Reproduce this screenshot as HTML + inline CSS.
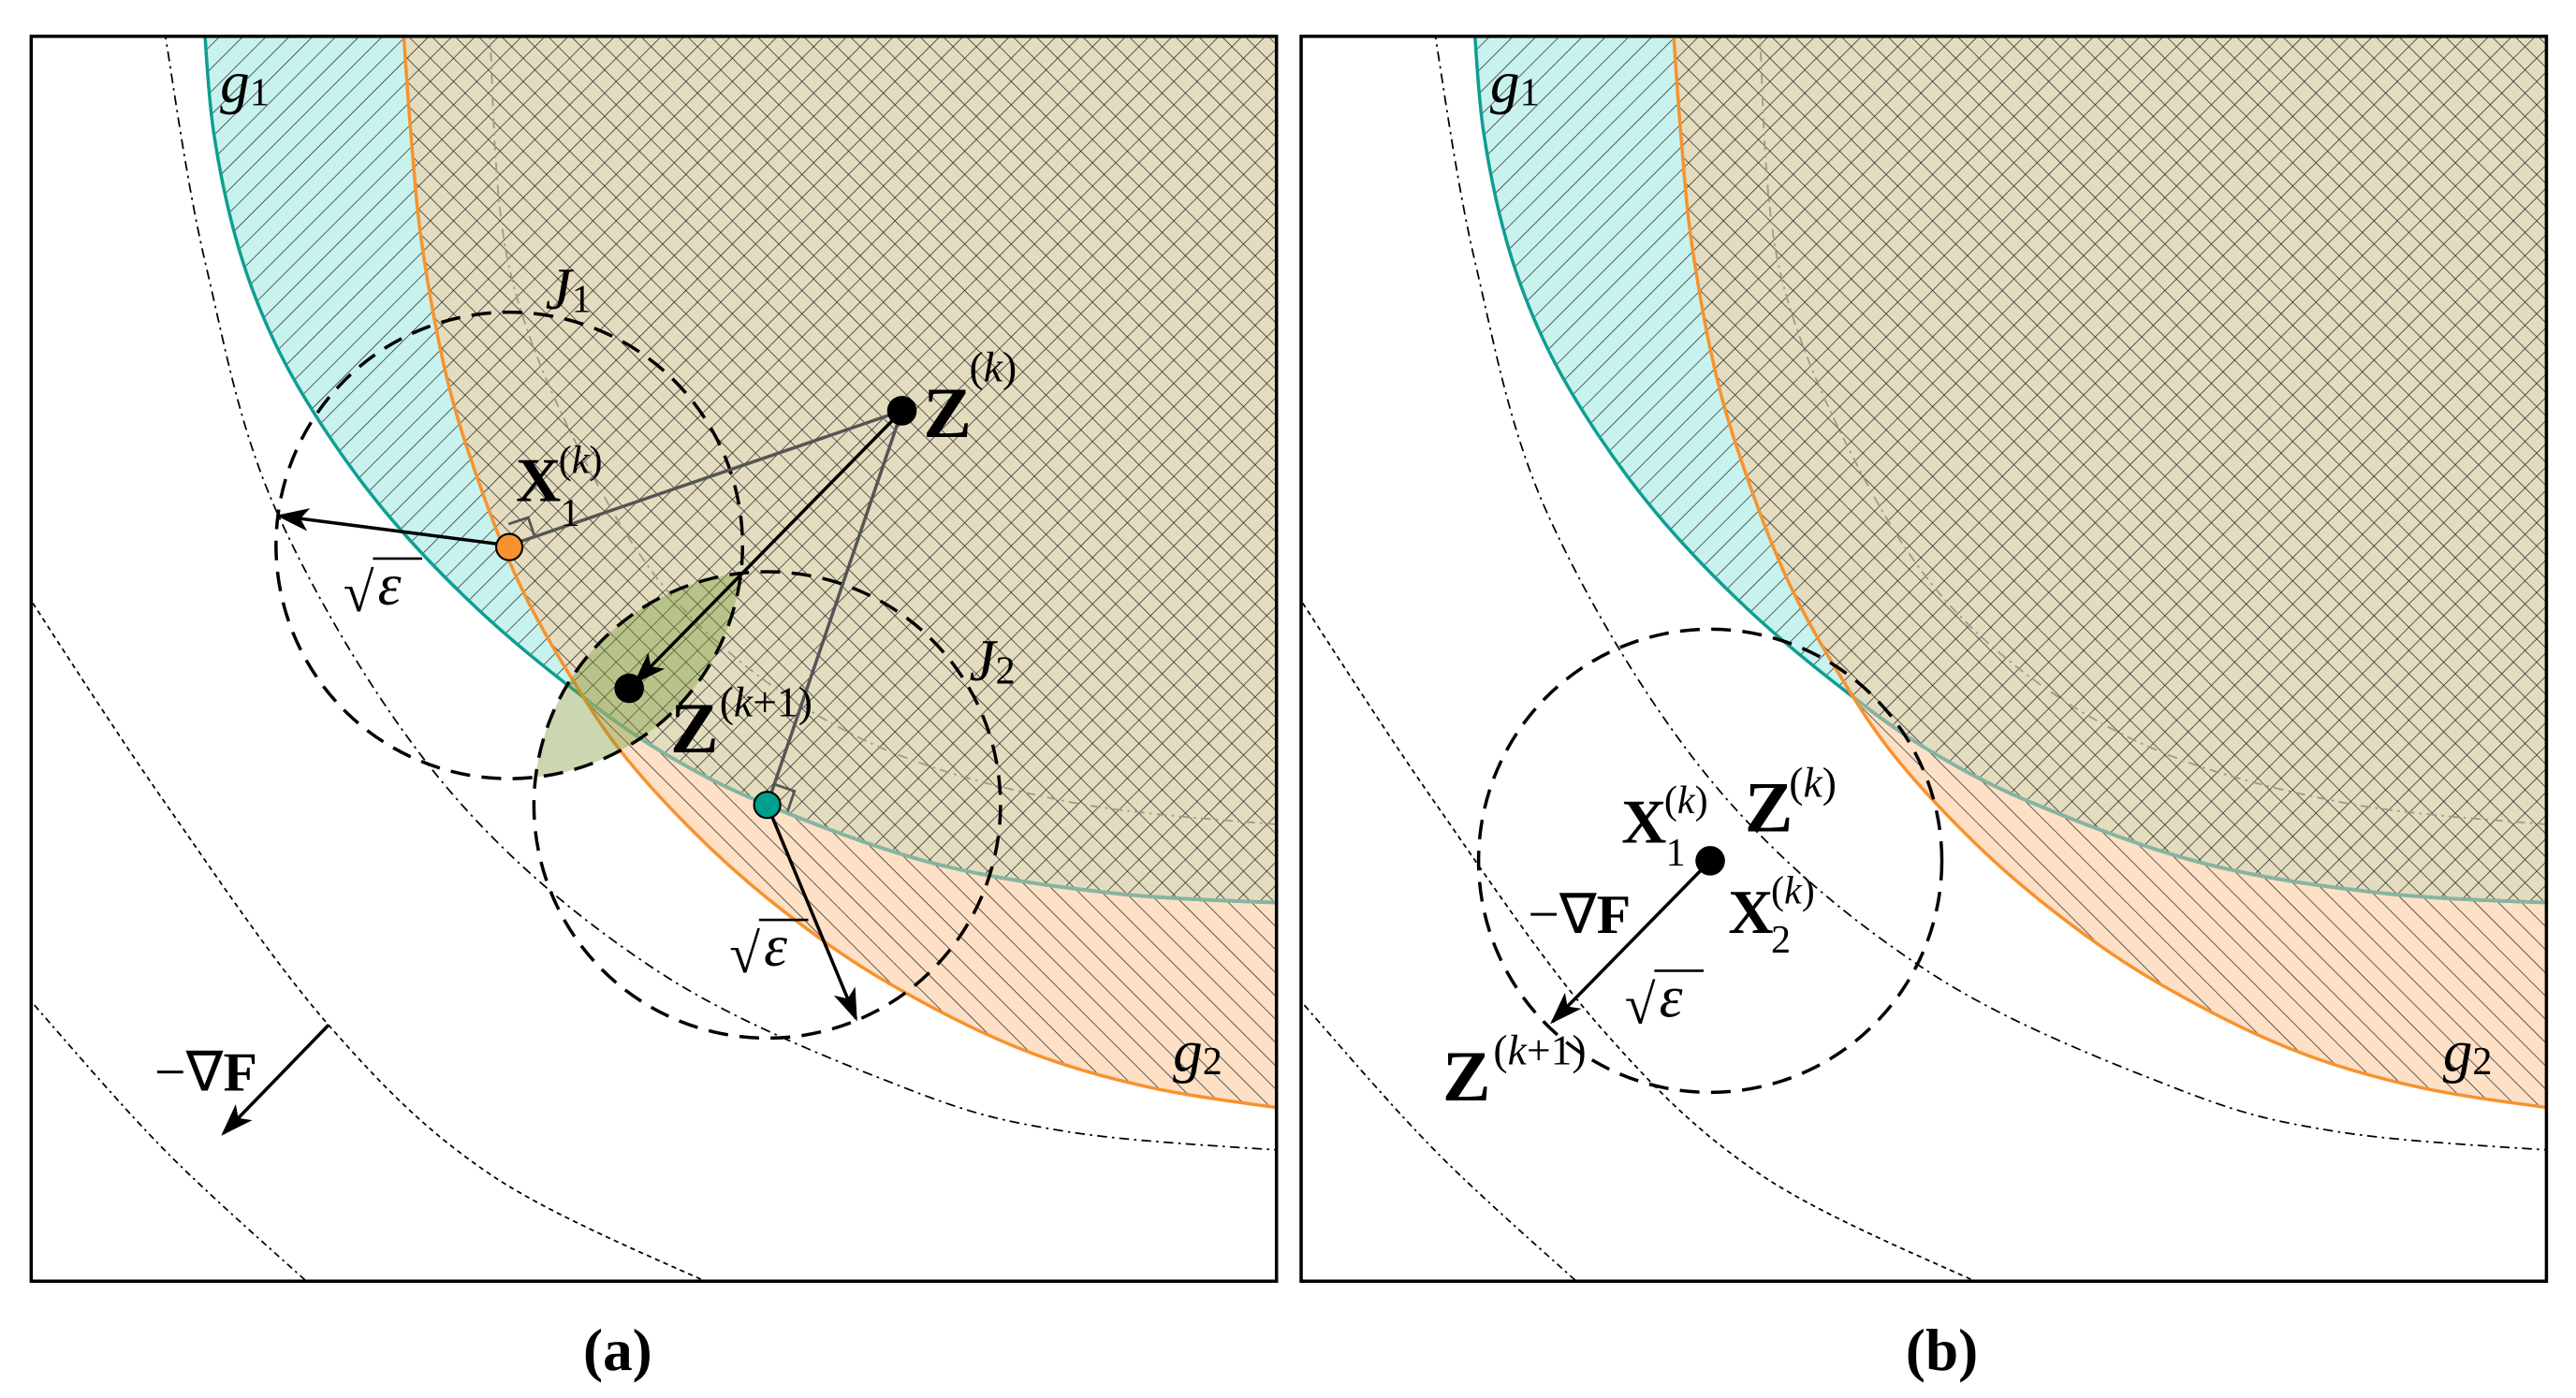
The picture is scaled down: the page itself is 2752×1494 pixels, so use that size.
<!DOCTYPE html>
<html><head><meta charset="utf-8"><style>
html,body{margin:0;padding:0;background:#fff}
svg{display:block}
text{font-family:"Liberation Serif",serif}
.b{font-weight:bold}
.i{font-style:italic}
</style></head><body>
<svg id="s" width="2752" height="1494" viewBox="0 0 1568 851" xmlns="http://www.w3.org/2000/svg">
<defs>
<pattern id="hs" width="10" height="10" patternUnits="userSpaceOnUse" patternTransform="rotate(45)">
<line x1="0" y1="0" x2="0" y2="10" stroke="#222" stroke-width="0.8"/></pattern>
<pattern id="hb" width="10" height="10" patternUnits="userSpaceOnUse" patternTransform="rotate(-45)">
<line x1="0" y1="0" x2="0" y2="10" stroke="#222" stroke-width="0.8"/></pattern>
<clipPath id="frame"><rect x="19" y="22" width="758" height="758"/></clipPath>
<clipPath id="cT"><path class="tealReg"/></clipPath>
<clipPath id="cO"><path class="orReg"/></clipPath>
<clipPath id="cJ1"><circle cx="310" cy="332" r="142"/></clipPath>
<g id="bg">
 <g clip-path="url(#frame)">
  <path class="tealReg" fill="#c8f2ee"/>
  <path class="orReg" fill="#fde0c5"/>
  <g clip-path="url(#cT)"><path class="orReg" fill="#e3dcbf"/></g>
  <path class="tealReg" fill="url(#hs)"/>
  <path class="orReg" fill="url(#hb)"/>
  <path class="tealC" fill="none" stroke="#0f9e92" stroke-width="2"/>
  <g clip-path="url(#cO)"><path class="tealC" fill="none" stroke="#86b4a0" stroke-width="2.2"/></g>
  <path class="orC" fill="none" stroke="#f7922e" stroke-width="2"/>
  <path class="dd1" fill="none" stroke="#000" stroke-width="1" stroke-dasharray="6,3,1.5,3"/>
  <path class="dd2" fill="none" stroke="#000" stroke-width="1" stroke-dasharray="3,2.5"/>
  <path class="dd3" fill="none" stroke="#000" stroke-width="1" stroke-dasharray="4,2.5,1.5,2.5"/>
  <path class="gin" fill="none" stroke="#9a9a8a" stroke-width="1" stroke-dasharray="6,3,1.5,3"/>
 </g>
 <rect x="19" y="22" width="758" height="758" fill="none" stroke="#000" stroke-width="2"/>
 <text x="134" y="62" font-size="36" class="i">g<tspan font-size="24" dy="2" font-style="normal">1</tspan></text>
 <text x="714" y="652" font-size="36" class="i">g<tspan font-size="24" dy="2" font-style="normal">2</tspan></text>
</g>
<marker id="ar2" markerWidth="20" markerHeight="14" refX="18" refY="7" orient="auto" markerUnits="userSpaceOnUse" viewBox="0 0 20 14"><path d="M0,0 L20,7 L0,14 L5,7z" fill="#000"/></marker>
</defs>

<!-- Panel a -->
<use href="#bg"/>
<g clip-path="url(#cJ1)"><circle cx="467" cy="490" r="142" fill="#7a9a3a" fill-opacity="0.4"/></g>
<circle cx="310" cy="332" r="142" fill="none" stroke="#000" stroke-width="2" stroke-dasharray="12,7"/>
<circle cx="467" cy="490" r="142" fill="none" stroke="#000" stroke-width="2" stroke-dasharray="12,7"/>
<line x1="549" y1="250" x2="310" y2="332" stroke="#555" stroke-width="2"/>
<line x1="549" y1="250" x2="467" y2="490" stroke="#555" stroke-width="2"/>
<path d="M309.5,319 L321.5,315 L325.6,327" fill="none" stroke="#555" stroke-width="1.6"/>
<path d="M471.3,477.4 L483.6,481.6 L479.4,494" fill="none" stroke="#555" stroke-width="1.6"/>
<line x1="310" y1="332" x2="170" y2="314" stroke="#000" stroke-width="2" marker-end="url(#ar2)"/>
<line x1="467" y1="490" x2="521" y2="620" stroke="#000" stroke-width="2" marker-end="url(#ar2)"/>
<line x1="549" y1="250" x2="387" y2="415" stroke="#000" stroke-width="2" marker-end="url(#ar2)"/>
<circle cx="549" cy="250" r="9" fill="#000"/>
<circle cx="383" cy="419" r="9" fill="#000"/>
<circle cx="310" cy="333" r="8" fill="#f7922e" stroke="#000" stroke-width="1.2"/>
<circle cx="467" cy="490" r="8" fill="#009e8e" stroke="#000" stroke-width="1.2"/>
<line x1="200" y1="624" x2="136" y2="690" stroke="#000" stroke-width="2" marker-end="url(#ar2)"/>

<text x="332" y="188" font-size="36" class="i">J<tspan font-size="24" dy="2" font-style="normal">1</tspan></text>
<text x="590" y="414" font-size="36" class="i">J<tspan font-size="24" dy="2" font-style="normal">2</tspan></text>
<text x="562" y="266" font-size="44" class="b">Z</text>
<text x="590" y="232" font-size="26">(<tspan class="i">k</tspan>)</text>
<text x="314" y="305" font-size="38" class="b">X</text>
<text x="340" y="288" font-size="24">(<tspan class="i">k</tspan>)</text>
<text x="341" y="320" font-size="24">1</text>
<text x="408" y="458" font-size="44" class="b">Z</text>
<text x="438" y="436" font-size="26">(<tspan class="i">k</tspan>+1)</text>
<text x="209" y="372" font-size="34">√</text><line x1="227" y1="340" x2="257" y2="340" stroke="#000" stroke-width="1.5"/>
<text x="230" y="368" font-size="36" class="i">ε</text>
<text x="444" y="592" font-size="34">√</text><line x1="462" y1="560" x2="492" y2="560" stroke="#000" stroke-width="1.5"/>
<text x="465" y="588" font-size="36" class="i">ε</text>
<text x="94" y="664" font-size="34">−∇<tspan class="b">F</tspan></text>
<text x="355" y="834" font-size="36" class="b">(a)</text>

<!-- Panel b -->
<use href="#bg" transform="translate(773,0)"/>
<circle cx="1041" cy="524" r="141" fill="none" stroke="#000" stroke-width="2" stroke-dasharray="12,7"/>
<line x1="1041" y1="524" x2="945" y2="622" stroke="#000" stroke-width="2" marker-end="url(#ar2)"/>
<circle cx="1041" cy="524" r="9" fill="#000"/>
<text x="987" y="513" font-size="38" class="b">X</text>
<text x="1013" y="495" font-size="24">(<tspan class="i">k</tspan>)</text>
<text x="1014" y="527" font-size="24">1</text>
<text x="1062" y="506" font-size="44" class="b">Z</text>
<text x="1089" y="485" font-size="26">(<tspan class="i">k</tspan>)</text>
<text x="1052" y="568" font-size="38" class="b">X</text>
<text x="1078" y="550" font-size="24">(<tspan class="i">k</tspan>)</text>
<text x="1078" y="580" font-size="24">2</text>
<text x="930" y="568" font-size="34">−∇<tspan class="b">F</tspan></text>
<text x="989" y="623" font-size="34">√</text><line x1="1007" y1="591" x2="1037" y2="591" stroke="#000" stroke-width="1.5"/>
<text x="1010" y="619" font-size="36" class="i">ε</text>
<text x="878" y="670" font-size="44" class="b">Z</text>
<text x="909" y="648" font-size="26">(<tspan class="i">k</tspan>+1)</text>
<text x="1160" y="834" font-size="36" class="b">(b)</text>
</svg>
<script>
function cr(p){var d="M"+p[0][0]+","+p[0][1];for(var i=0;i<p.length-1;i++){var a=p[i-1]||p[i],b=p[i],c=p[i+1],e=p[i+2]||c;
d+=" C"+(b[0]+(c[0]-a[0])/6).toFixed(1)+","+(b[1]+(c[1]-a[1])/6).toFixed(1)+" "+(c[0]-(e[0]-b[0])/6).toFixed(1)+","+(c[1]-(e[1]-b[1])/6).toFixed(1)+" "+c[0]+","+c[1];}return d;}
var teal=[[124,10],[130,80],[145,150],[168,210],[200,265],[240,318],[290,370],[343,415],[400,456],[467,490],[570,526],[680,544],[790,550]];
var orr=[[245,10],[250,80],[257,150],[272,230],[292,295],[316,355],[345,408],[380,460],[430,514],[480,557],[540,598],[620,638],[700,662],[790,676]];
var dd1=[[100,18],[125,160],[170,315],[270,477],[400,591],[550,662],[650,689],[790,701]];
var dd2=[[14,358],[100,488],[200,624],[300,716],[440,785]];
var dd3=[[14,604],[100,700],[192,785]];
var gin=[[298,18],[310,163],[360,288],[425,380],[525,450],[650,488],[790,503]];
function set(cls,d){document.querySelectorAll("."+cls).forEach(function(e){e.setAttribute("d",d)});}
var tc=cr(teal),oc=cr(orr);
set("tealC",tc);set("orC",oc);
set("tealReg",tc+" L800,5 L100,5 Z");
set("orReg",oc+" L800,5 L200,5 Z");
set("dd1",cr(dd1));set("dd2",cr(dd2));set("dd3",cr(dd3));set("gin",cr(gin));
</script>
</body></html>
